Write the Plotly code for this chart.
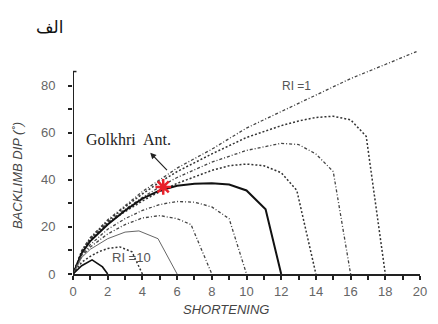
import plotly.graph_objects as go

# shortening (x) / backlimb dip (y) per RI curve
ri_labels = ["RI=1", "RI=2", "RI=3", "RI=4", "RI=5", "RI=6", "RI=7", "RI=8", "RI=9", "RI=10"]

sh_ri1 = [0, 0.5, 1, 2, 3, 4, 5, 6, 8, 10, 12, 14, 16, 18, 19.8]
dip_ri1 = [0, 10, 15.5, 23, 29, 35, 40, 45, 53, 62, 69, 76, 83, 89, 94.5]

sh_ri2 = [0, 0.5, 1, 2, 3, 4, 5, 6, 8, 10, 12, 13, 14, 15, 16, 16.9, 18]
dip_ri2 = [0, 9.7, 15.2, 22.5, 28.5, 34, 39, 43.5, 51, 58, 63, 65, 66.5, 67, 65.5, 58.5, 0]

sh_ri3 = [0, 0.5, 1, 2, 3, 4, 5, 6, 8, 10, 12, 13, 14, 15, 16]
dip_ri3 = [0, 9.4, 14.8, 22, 27.5, 32.5, 37, 41, 47.5, 52.5, 55.5, 55, 51, 43.5, 0]

sh_ri4 = [0, 0.5, 1, 2, 3, 4, 5, 6, 8, 9, 10, 11, 12, 12.9, 14]
dip_ri4 = [0, 9.1, 14.4, 21.5, 26.5, 31, 35, 38.5, 44, 46, 46.7, 46, 43, 35.5, 0]

sh_ri5 = [0, 0.5, 1, 2, 3, 4, 5, 6, 7, 8, 9, 10, 11.1, 12]
dip_ri5 = [0, 8.8, 14, 21, 27, 32, 35.5, 37.5, 38.3, 38.5, 38, 35.5, 27.5, 0]

sh_ri6 = [0, 0.5, 1, 2, 3, 4, 5, 6, 7, 8, 9, 10]
dip_ri6 = [0, 8, 12.5, 19, 23.5, 27, 29.5, 30.8, 30.5, 28.5, 23.5, 0]

sh_ri7 = [0, 0.5, 1, 2, 3, 4, 5, 6, 6.8, 8]
dip_ri7 = [0, 7.5, 11.5, 17, 21, 23.8, 24.8, 23.5, 21, 0]

sh_ri8 = [0, 0.5, 1, 2, 3, 3.8, 4.9, 6]
dip_ri8 = [0, 7, 10.5, 15, 17.8, 18.3, 15, 0]

sh_ri9 = [0, 0.5, 1, 1.5, 2, 2.7, 3.4, 4]
dip_ri9 = [0, 5, 7.5, 9.5, 10.8, 11.5, 9.4, 0]

sh_ri10 = [0, 0.5, 1.1, 1.7, 2]
dip_ri10 = [0, 3.5, 6, 3, 0]

golkhri_sh = [5.2]
golkhri_dip = [37]

x_ticks = list(range(0, 21, 2))
y_ticks = [0, 20, 40, 60, 80]

curves = [
    (sh_ri1, dip_ri1, "#444", 1.3, "3px,2px,1px,2px"),
    (sh_ri2, dip_ri2, "#333", 1.5, "2px,2px"),
    (sh_ri3, dip_ri3, "#444", 1.3, "3px,2px,1px,2px"),
    (sh_ri4, dip_ri4, "#333", 1.5, "2px,2px"),
    (sh_ri5, dip_ri5, "#111", 2.0, "solid"),
    (sh_ri6, dip_ri6, "#444", 1.3, "3px,2px,1px,2px"),
    (sh_ri7, dip_ri7, "#444", 1.3, "3px,2px,1px,2px"),
    (sh_ri8, dip_ri8, "#666", 1.0, "solid"),
    (sh_ri9, dip_ri9, "#333", 1.5, "2px,2px"),
    (sh_ri10, dip_ri10, "#111", 1.6, "solid"),
]

fig = go.Figure()
for (xs, ys, col, w, dash), name in zip(curves, ri_labels):
    fig.add_trace(go.Scatter(x=xs, y=ys, mode="lines", name=name,
                             line=dict(color=col, width=w, dash=dash)))

fig.add_trace(go.Scatter(x=golkhri_sh, y=golkhri_dip, mode="markers", name="Golkhri Ant.",
                         marker=dict(symbol="asterisk-open", size=13, color="#e8202a",
                                     line=dict(color="#e8202a", width=2.5))))

axis_font = dict(family="Liberation Sans, Arial", size=13, color="#666")

# the page body adds an 8px offset, so the figure is a little smaller
fig.update_layout(
    width=430, height=316,
    margin=dict(l=65, r=11, t=40, b=50),
    paper_bgcolor="white", plot_bgcolor="white",
    showlegend=False,
    xaxis=dict(range=[0, 20], tickvals=x_ticks, showgrid=False, zeroline=False,
               showline=True, linecolor="#222", linewidth=2,
               ticks="outside", ticklen=4, tickcolor="#222", tickwidth=1.5,
               minor=dict(dtick=1, ticks="outside", ticklen=4, tickcolor="#222", tickwidth=1.5),
               tickfont=axis_font, ticklabelstandoff=0, ticklabeloverflow="allow"),
    yaxis=dict(range=[0, 96], tickvals=y_ticks, showgrid=False, zeroline=False,
               showline=False,
               ticks="outside", ticklen=4, tickcolor="#222", tickwidth=1.5,
               minor=dict(tickmode="array", tickvals=[10, 30, 50, 70], ticks="outside",
                          ticklen=4, tickcolor="#222", tickwidth=1.5),
               tickfont=axis_font, ticklabelstandoff=10),
)

# y axis drawn only up to its cap, as in the original
fig.add_shape(type="line", xref="x", yref="y", x0=0, x1=0, y0=0, y1=86,
              line=dict(color="#222", width=2))
fig.add_shape(type="line", xref="x", yref="y", x0=-0.2, x1=0.2, y0=86, y1=86,
              line=dict(color="#222", width=1.5))

fig.add_annotation(text="<i>BACKLIMB DIP (˚)</i>", xref="paper", yref="paper",
                   x=-0.158, y=0.434, textangle=-90, showarrow=False,
                   font=dict(family="Liberation Sans, Arial", size=13, color="#444"),
                   xanchor="center", yanchor="middle")
fig.add_annotation(text="<i>SHORTENING</i>", xref="paper", yref="paper",
                   x=0.44, y=-0.155, showarrow=False,
                   font=dict(family="Liberation Sans, Arial", size=13, color="#444"),
                   xanchor="center", yanchor="middle")

fig.add_annotation(text="RI =1", x=12.9, y=80, showarrow=False,
                   font=dict(family="Liberation Sans, Arial", size=12, color="#555"))
fig.add_annotation(text="RI =10", x=3.4, y=7, showarrow=False,
                   font=dict(family="Liberation Sans, Arial", size=13, color="#555"))

fig.add_annotation(text="Golkhri  Ant.", x=3.2, y=57, showarrow=False,
                   font=dict(family="Liberation Serif, Times New Roman", size=16, color="#222"))
fig.add_annotation(text="", x=4.45, y=51.5, ax=5.5, ay=43.5, axref="x", ayref="y",
                   showarrow=True, arrowhead=2, arrowsize=1, arrowwidth=1.2, arrowcolor="#222")

fig.add_annotation(text="الف", xref="paper", yref="paper", x=-0.065, y=1.093,
                   showarrow=False, xanchor="center", yanchor="middle",
                   font=dict(family="DejaVu Sans, Noto Sans", size=17, color="#111"))

fig.write_html("out.html")
